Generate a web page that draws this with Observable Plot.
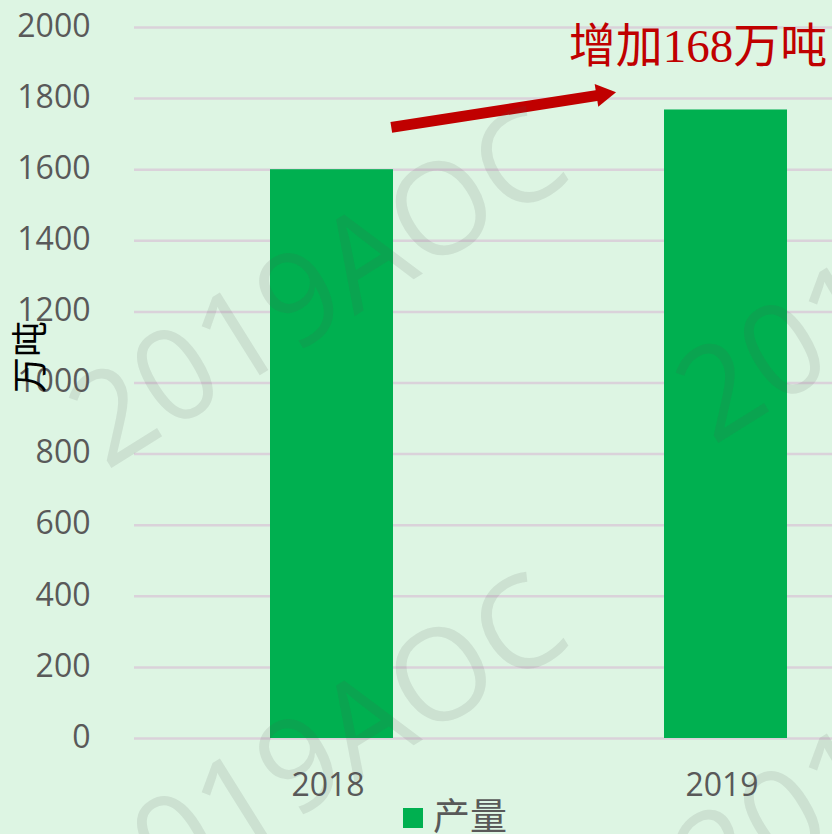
<!DOCTYPE html>
<html><head><meta charset="utf-8">
<script src="https://cdn.jsdelivr.net/npm/d3@7"></script>
<script src="https://cdn.jsdelivr.net/npm/@observablehq/plot@0.6"></script>
<style>
html,body{margin:0;padding:0;background:#ddf5e3;width:832px;height:834px;overflow:hidden;}
#wrap{position:relative;width:832px;height:834px;}
#legend{position:relative;width:832px;height:34px;}
.wm{position:absolute;left:0;top:0;font-family:"Open Sans";font-weight:400;font-size:128px;color:rgba(80,80,80,0.12);white-space:nowrap;transform-origin:0 0;pointer-events:none;line-height:1;z-index:5}
</style></head><body><div id="wrap"></div>
<script>
// ---- data ----
const years = ["2018", "2019"];
const output = [1600, 1768];           // 产量 (万吨)
const yTicks = [0, 200, 400, 600, 800, 1000, 1200, 1400, 1600, 1800, 2000];
const seriesName = "产量";
const axisTitle = "万吨";
const watermarkText = "2019AOC";
const increase = output[1] - output[0];
const annotationText = `增加${increase}万吨`;

const rows = years.map((y, i) => ({year: y, value: output[i]}));
// arrow from 2018 bar toward 2019 (value coordinates)
const arrowRows = [{from: years[0], to: years[1], v1: 1693, v2: 1865}];
const headRows = [{year: years[1], value: 1812}];
const noteRows = [{year: years[1], value: 1946, text: annotationText}];

const green = "#00b050", red = "#c00000", grid = "#dad2da", axisColor = "#595959";

const chart = Plot.plot({
  width: 832,
  height: 800,
  marginTop: 27,
  marginBottom: 62,
  marginLeft: 134,
  marginRight: 0,
  style: {background: "transparent", fontFamily: "'Open Sans', sans-serif", fontSize: "32px", color: axisColor, overflow: "visible"},
  x: {type: "band", domain: years, range: [134, 922], paddingInner: 0.688, paddingOuter: 0.344},
  y: {domain: [0, 2000]},
  marks: [
    Plot.ruleY(yTicks, {stroke: grid, strokeWidth: 2.5}),
    Plot.barY(rows, {x: "year", y: "value", fill: green}),
    Plot.axisY({ticks: yTicks, tickSize: 0, tickPadding: 44, tickFormat: d => String(d), label: null, fill: axisColor, dy: -1}),
    Plot.axisX({tickSize: 0, tickPadding: 35, label: null, fill: axisColor, dx: -4}),
    Plot.text([axisTitle], {frameAnchor: "left", text: d => d, rotate: -90, dx: -103, dy: -26, fontSize: 36, fill: "#000", fontFamily: "'Noto Sans CJK SC'", textAnchor: "middle", lineAnchor: "middle"}),
    Plot.arrow(arrowRows, {x1: "from", x2: "to", y1: "v1", y2: "v2", stroke: red, strokeWidth: 11, headLength: 0, insetStart: 60, insetEnd: 128, strokeLinecap: "butt"}),
    Plot.dot(headRows, {x: "year", y: "value", symbol: "triangle", r: 8.5, rotate: 81, fill: red, stroke: "none", dx: -123}),
    Plot.text(noteRows, {x: "year", y: "value", text: "text", fill: red, fontSize: 47, fontFamily: "'Liberation Serif', 'Noto Sans CJK SC', serif", textAnchor: "middle", lineAnchor: "middle", dx: -28})
  ]
});

const wrap = document.getElementById("wrap");
wrap.appendChild(chart);

// legend below the chart
const legend = document.createElement("div");
legend.id = "legend";
legend.innerHTML = `<span style="position:absolute;left:403px;top:8px;width:20px;height:20px;background:${green}"></span>` +
  `<span style="position:absolute;left:433px;top:-4px;font-family:'Noto Sans CJK SC';font-size:37px;line-height:1;color:${axisColor}">${seriesName}</span>`;
wrap.appendChild(legend);

// watermark overlay
const wmCenters = [[315, 283], [315, 749], [922, 258], [922, 724]];
for (const [cx, cy] of wmCenters) {
  const d = document.createElement("div");
  d.className = "wm";
  d.textContent = watermarkText;
  d.style.transform = `translate(${cx}px,${cy}px) rotate(-32deg) translate(-50%,-50%)`;
  wrap.appendChild(d);
}
</script>
</body></html>
